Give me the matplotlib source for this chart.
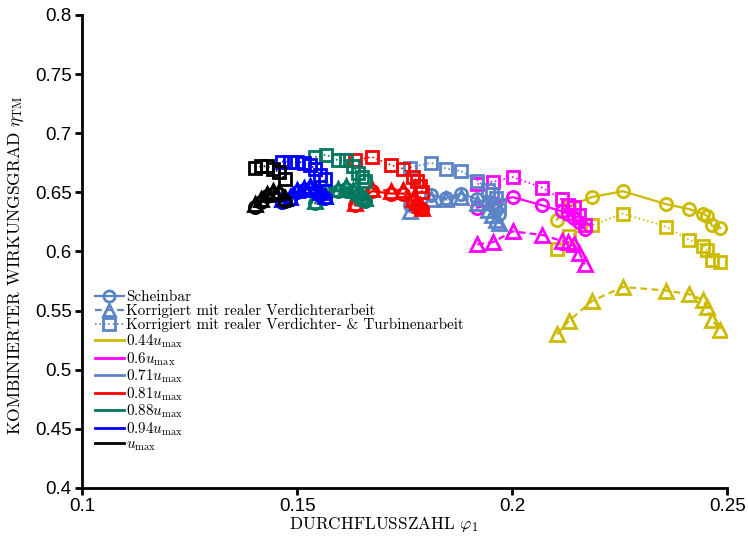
import matplotlib
matplotlib.use('Agg')
import matplotlib.pyplot as plt
from matplotlib.lines import Line2D
from matplotlib.ticker import FuncFormatter

plt.rcParams['mathtext.fontset'] = 'cm'
plt.rcParams['axes.unicode_minus'] = False

# data: flow coefficient phi_1 and efficiency for the 3 evaluation methods
# (s = Scheinbar, v = korrigiert Verdichter, vt = korrigiert Verdichter + Turbine)
phi_44 = [0.2104, 0.2131, 0.2185, 0.2257, 0.2358, 0.2410, 0.2444, 0.2453, 0.2464, 0.2484]
eta_s_44 = [0.627, 0.638, 0.646, 0.651, 0.640, 0.636, 0.632, 0.630, 0.622, 0.620]
eta_v_44 = [0.530, 0.541, 0.558, 0.570, 0.567, 0.564, 0.559, 0.553, 0.542, 0.534]
eta_vt_44 = [0.602, 0.613, 0.622, 0.632, 0.621, 0.610, 0.605, 0.601, 0.593, 0.591]

phi_60 = [0.1919, 0.1956, 0.2001, 0.2070, 0.2115, 0.2130, 0.2144, 0.2156, 0.2169]
eta_s_60 = [0.637, 0.641, 0.646, 0.639, 0.634, 0.632, 0.628, 0.625, 0.619]
eta_v_60 = [0.606, 0.608, 0.617, 0.614, 0.609, 0.608, 0.606, 0.599, 0.589]
eta_vt_60 = [0.657, 0.659, 0.663, 0.654, 0.644, 0.639, 0.638, 0.631, 0.622]

phi_71 = [0.1763, 0.1812, 0.1847, 0.1881, 0.1919, 0.1944, 0.1954, 0.1963, 0.1970]
eta_s_71 = [0.639, 0.648, 0.645, 0.649, 0.644, 0.641, 0.639, 0.635, 0.632]
eta_v_71 = [0.634, 0.644, 0.644, 0.646, 0.641, 0.635, 0.631, 0.627, 0.624]
eta_vt_71 = [0.671, 0.675, 0.670, 0.668, 0.660, 0.652, 0.649, 0.645, 0.639]

phi_81 = [0.1635, 0.1674, 0.1719, 0.1747, 0.1770, 0.1779, 0.1786, 0.1791]
eta_s_81 = [0.639, 0.651, 0.649, 0.649, 0.642, 0.639, 0.637, 0.636]
eta_v_81 = [0.641, 0.653, 0.651, 0.652, 0.644, 0.642, 0.639, 0.637]
eta_vt_81 = [0.677, 0.680, 0.673, 0.670, 0.663, 0.660, 0.655, 0.650]

phi_88 = [0.1542, 0.1567, 0.1595, 0.1613, 0.1630, 0.1642, 0.1651, 0.1658]
eta_s_88 = [0.641, 0.651, 0.651, 0.653, 0.650, 0.647, 0.645, 0.643]
eta_v_88 = [0.643, 0.653, 0.653, 0.655, 0.652, 0.650, 0.647, 0.645]
eta_vt_88 = [0.680, 0.682, 0.677, 0.677, 0.672, 0.666, 0.663, 0.660]

phi_94 = [0.1465, 0.1484, 0.1500, 0.1515, 0.1530, 0.1542, 0.1554, 0.1564]
eta_s_94 = [0.642, 0.644, 0.650, 0.652, 0.653, 0.651, 0.648, 0.645]
eta_v_94 = [0.644, 0.646, 0.652, 0.654, 0.655, 0.653, 0.650, 0.647]
eta_vt_94 = [0.676, 0.676, 0.676, 0.675, 0.673, 0.670, 0.665, 0.661]

phi_100 = [0.1402, 0.1416, 0.1431, 0.1444, 0.1457, 0.1473]
eta_s_100 = [0.638, 0.642, 0.647, 0.649, 0.649, 0.643]
eta_v_100 = [0.640, 0.644, 0.649, 0.651, 0.651, 0.645]
eta_vt_100 = [0.671, 0.672, 0.672, 0.670, 0.667, 0.661]

speed_labels = [r'$0.44u_{\rm max}$', r'$0.6u_{\rm max}$', r'$0.71u_{\rm max}$',
                r'$0.81u_{\rm max}$', r'$0.88u_{\rm max}$', r'$0.94u_{\rm max}$',
                r'$u_{\rm max}$']
colors = ['#CDBB00', '#FF00FF', '#5B84C6', '#FF0000', '#00775F', '#0000FF', '#000000']

series = [
    (phi_44, eta_s_44, eta_v_44, eta_vt_44),
    (phi_60, eta_s_60, eta_v_60, eta_vt_60),
    (phi_71, eta_s_71, eta_v_71, eta_vt_71),
    (phi_81, eta_s_81, eta_v_81, eta_vt_81),
    (phi_88, eta_s_88, eta_v_88, eta_vt_88),
    (phi_94, eta_s_94, eta_v_94, eta_vt_94),
    (phi_100, eta_s_100, eta_v_100, eta_vt_100),
]

fig = plt.figure(figsize=(7.48, 5.43), dpi=100)
ax = fig.add_axes([0.1096, 0.1013, 0.8627, 0.8711])

ms = 8.8
mew = 2
for (phi, es, ev, evt), c in zip(series, colors):
    ax.plot(phi, es, '-', color=c, lw=1.6, marker='o', ms=ms, mew=mew, mfc='none')
    ax.plot(phi, ev, '--', color=c, lw=1.6, marker='^', ms=ms + 1, mew=mew, mfc='none',
            dashes=(3, 2))
    ax.plot(phi, evt, ':', color=c, lw=1.2, marker='s', ms=ms - 0.3, mew=mew, mfc='none')

ax.set_xlim(0.1, 0.25)
ax.set_ylim(0.4, 0.8)
ax.set_xticks([0.1, 0.15, 0.2, 0.25])
ax.set_yticks([0.4, 0.45, 0.5, 0.55, 0.6, 0.65, 0.7, 0.75, 0.8])
fmt = FuncFormatter(lambda v, p: '%g' % round(v, 3))
ax.xaxis.set_major_formatter(fmt)
ax.yaxis.set_major_formatter(fmt)

for s in ['top', 'right']:
    ax.spines[s].set_visible(False)
for s in ['left', 'bottom']:
    ax.spines[s].set_linewidth(2)
ax.tick_params(direction='out', length=5, width=2, labelsize=13.5, pad=2.5)
for lab in ax.get_xticklabels() + ax.get_yticklabels():
    lab.set_family('Liberation Sans')

ax.set_xlabel(r'DURCHFLUSSZAHL $\varphi_1$', family='cmr10', fontsize=12.4)
ax.set_ylabel(r'KOMBINIERTER WIRKUNGSGRAD $\eta_{\rm TM}$', family='cmr10', fontsize=12.6)
ax.xaxis.set_label_coords(0.468, -0.058)
ax.yaxis.set_label_coords(-0.086, 0.47)

# legend handles
ref = '#5B84C6'
handles = [
    Line2D([], [], color=ref, lw=1.6, marker='o', ms=8, mew=mew, mfc='none'),
    Line2D([], [], color=ref, lw=1.6, ls='--', dashes=(3, 2), marker='^', ms=9, mew=mew, mfc='none'),
    Line2D([], [], color=ref, lw=1.2, ls=':', marker='s', ms=8, mew=mew, mfc='none'),
]
labels = ['Scheinbar', 'Korrigiert mit realer Verdichterarbeit',
          'Korrigiert mit realer Verdichter- & Turbinenarbeit']
for c, l in zip(colors, speed_labels):
    handles.append(Line2D([], [], color=c, lw=2))
    labels.append(l)

leg = ax.legend(handles, labels, loc='upper left', bbox_to_anchor=(0.02, 0.418),
                frameon=False, prop={'family': 'cmr10', 'size': 10.9},
                handlelength=1.9, handletextpad=0.15, labelspacing=0.0,
                borderpad=0, borderaxespad=0)

fig.savefig('out.png', dpi=100)
